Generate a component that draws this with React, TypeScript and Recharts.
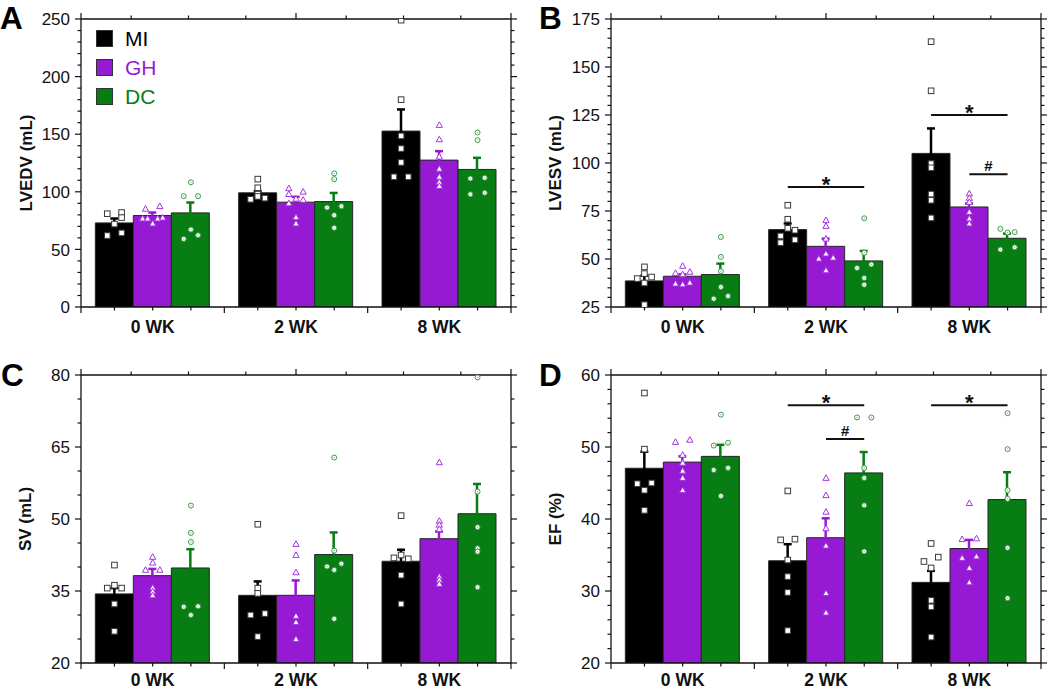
import React from 'react';
import { ComposedChart, Bar, ErrorBar, Scatter, XAxis, YAxis, ReferenceLine, Legend } from 'recharts';

const CATS = ['0 WK', '2 WK', '8 WK'];
const GROUPS = ['MI', 'GH', 'DC'];
const COLORS = ['#000000', '#9619d4', '#077d14'];
const MARKER_STROKE = ['#3a3a3a', '#a535e0', '#3e9a48'];
const FONT = '"Liberation Sans", Arial, sans-serif';

// ---------- A: LVEDV ----------
const LVEDV_TICKS = [0, 50, 100, 150, 200, 250];
const LVEDV_MI = [73.0, 99.1, 152.7];
const LVEDV_GH = [79.4, 91.0, 127.5];
const LVEDV_DC = [81.7, 91.5, 119.4];
const LVEDV_MI_SEM = [3.8, 1.5, 18.8];
const LVEDV_GH_SEM = [2.6, 4.6, 7.8];
const LVEDV_DC_SEM = [9.0, 7.5, 10.1];
const LVEDV_MI_PTS = [[81, 82, 77.6, 72, 62, 64.3], [111, 103.5, 98, 96, 93.5, 94.5], [249, 180, 148.5, 137.5, 125.5, 113, 113]];
const LVEDV_MI_JIT = [[-1, 1, 1, 0, -1, 1], [0, 0, 0, 0, -1, 1], [0, 0, 0, 0, 0, -1, 1]];
const LVEDV_GH_PTS = [[85.2, 87.5, 76.8, 76.8, 76.8, 77.6, 72.5], [103, 98, 100, 94, 93, 90, 78, 72.5], [158, 145.5, 130.5, 120, 113, 108.5, 105]];
const LVEDV_GH_JIT = [[-1, 1, -1.4, -0.7, 0.7, 1.4, 0], [-1, -1, 1, 0, 1, -1, 0, 0], [0, 0, 0, 0, 0, 0, 0]];
const LVEDV_DC_PTS = [[108.3, 96.2, 96.2, 67.2, 59.1, 62.3], [116, 111, 86.3, 87.5, 79.7, 68.7], [151.5, 144.8, 111.5, 112.1, 97.9, 99.1]];
const LVEDV_DC_JIT = [[0, -1, 1, 0, -1, 1], [0, 0, -1, 1, 0, 0], [0, 0, -1, 1, -1, 1]];
const LVEDV_SIG: any[] = [];

// ---------- B: LVESV ----------
const LVESV_TICKS = [25, 50, 75, 100, 125, 150, 175];
const LVESV_MI = [38.6, 65.3, 105.0];
const LVESV_GH = [41.0, 56.6, 77.1];
const LVESV_DC = [41.9, 49.0, 60.8];
const LVESV_MI_SEM = [2.7, 3.2, 13.0];
const LVESV_GH_SEM = [1.0, 4.0, 1.8];
const LVESV_DC_SEM = [5.7, 5.2, 2.4];
const LVESV_MI_PTS = [[45.9, 42.4, 39.8, 40.6, 37.5, 26.2], [78, 70.7, 66, 65, 62, 58.5, 60], [163.2, 137.6, 99.7, 97.5, 83.8, 80.6, 71.4]];
const LVESV_MI_JIT = [[0, 0, -1, 1, 0, 0], [0, 0, 0, 1, -1, -1, 1], [0, 0, 0, 0, 0, 0, 0]];
const LVESV_GH_PTS = [[46.4, 42.7, 43.3, 42.0, 37.2, 36.8, 37.7], [70.2, 67.2, 60.6, 52.8, 50.2, 50.7, 44.1], [84.1, 81.8, 79.7, 74.5, 71.1, 68.5]];
const LVESV_GH_JIT = [[0, -1, 1, 0, -1, 0, 1], [0, 0, 0, 0, -1, 1, 0], [0, 0, 0, 0, 0, 0]];
const LVESV_DC_PTS = [[61.5, 51.1, 43.6, 35.4, 29.3, 30.7], [71.2, 53.3, 45.3, 47.2, 40.1, 36.6], [65.7, 63.8, 64.0, 54.9, 56.1]];
const LVESV_DC_JIT = [[0, 0, 0, 0, -1, 1], [0, 0, -1, 1, 0, 0], [-1, 0, 1, -1, 1]];
const LVESV_SIG = [
  { cat: 1, from: 'MI', to: 'DC', y: 87.5, mark: '*' },
  { cat: 2, from: 'MI', to: 'DC', y: 125, mark: '*' },
  { cat: 2, from: 'GH', to: 'DC', y: 94.2, mark: '#' },
];

// ---------- C: SV ----------
const SV_TICKS = [20, 35, 50, 65, 80];
const SV_MI = [34.4, 34.1, 41.2];
const SV_GH = [38.2, 34.1, 45.9];
const SV_DC = [39.8, 42.6, 51.1];
const SV_MI_SEM = [1.2, 2.9, 2.4];
const SV_GH_SEM = [1.4, 3.1, 1.5];
const SV_DC_SEM = [3.9, 4.6, 6.2];
const SV_MI_PTS = [[40.4, 35.6, 36.2, 35.6, 32.3, 26.6], [48.9, 35.6, 34.5, 30.0, 30.3, 25.5], [50.7, 41.9, 42.5, 41.7, 38.3, 32.3]];
const SV_MI_JIT = [[0, -1, 0, 1, 0, 0], [0, 0, 0, -1, 1, 0], [0, -1, 0, 1, 0, 0]];
const SV_GH_PTS = [[42.1, 40.9, 39.4, 39.4, 35.7, 34.9, 34.1], [44.8, 42.5, 38.9, 29.8, 28.5, 25.0], [61.8, 49.6, 48.8, 47.9, 38.0, 37.3, 36.5]];
const SV_GH_JIT = [[0, 0, -1, 1, 0, 0, 0], [0, 0, 0, 0, 0, 0], [0, 0, 0, 0, 0, 0, 0]];
const SV_DC_PTS = [[52.8, 47.1, 45.2, 31.7, 31.8, 30.0], [62.8, 43.4, 40.1, 39.4, 40.7, 29.2], [79.5, 55.7, 48.3, 43.9, 43.2, 35.8]];
const SV_DC_JIT = [[0, 0, 0, -1, 1, 0], [0, 0, -1, 0, 1, 0], [0, 0, 0, 0, 0, 0]];
const SV_SIG: any[] = [];

// ---------- D: EF ----------
const EF_TICKS = [20, 30, 40, 50, 60];
const EF_MI = [47.05, 34.2, 31.2];
const EF_GH = [47.9, 37.4, 35.9];
const EF_DC = [48.7, 46.4, 42.7];
const EF_MI_SEM = [2.3, 2.3, 1.6];
const EF_GH_SEM = [0.8, 2.7, 1.2];
const EF_DC_SEM = [1.6, 2.9, 3.8];
const EF_MI_PTS = [[57.5, 49.7, 44.9, 45.0, 44.0, 41.2], [43.9, 37.1, 37.2, 34.3, 32.0, 29.8, 24.5], [36.6, 34.1, 34.7, 33.2, 28.7, 27.8, 23.6]];
const EF_MI_JIT = [[0, 0, -1, 1, 0, 0], [0, -1, 1, 0, 0, 0, 0], [0, -1, 1, 0, 0, 0, 0]];
const EF_GH_PTS = [[50.7, 51.0, 48.9, 47.8, 46.7, 45.7, 44.0], [45.7, 43.3, 41.0, 38.7, 36.3, 29.7, 27.0], [42.2, 37.2, 37.3, 34.6, 34.8, 33.2, 31.2]];
const EF_GH_JIT = [[-1, 1, 0, 0, 0, 0, 0], [0, 0, 0, 0, 0, 0, 0], [0, -1, 1, -1, 1, 0, 0]];
const EF_DC_PTS = [[54.5, 50.2, 50.6, 46.8, 47.1, 43.2], [54.1, 54.1, 47.1, 45.7, 41.9, 35.5], [54.7, 49.7, 44.0, 42.8, 36.0, 29.0]];
const EF_DC_JIT = [[0, -1, 1, -1, 1, 0], [-1, 1, 0, 0, 0, 0], [0, 0, 0, 0, 0, 0]];
const EF_SIG = [
  { cat: 1, from: 'MI', to: 'DC', y: 55.8, mark: '*' },
  { cat: 1, from: 'GH', to: 'DC', y: 51.1, mark: '#' },
  { cat: 2, from: 'MI', to: 'DC', y: 55.8, mark: '*' },
];

const PANEL_LETTERS = ['A', 'B', 'C', 'D'];

const CAT_GAP = 0.1;
const JSTEP = 0.05;
const CENTERS = GROUPS.map((_, g) => CAT_GAP + ((g + 0.5) * (1 - 2 * CAT_GAP)) / GROUPS.length);

function renderMarker(p: any, gi: number) {
  const { cx, cy } = p;
  if (cx == null || cy == null) return <g />;
  const s = MARKER_STROKE[gi];
  if (gi === 0) {
    return <rect x={cx - 2.8} y={cy - 2.8} width={5.6} height={5.6} fill="#fff" stroke={s} strokeWidth={1} />;
  }
  if (gi === 1) {
    return (
      <polygon
        points={`${cx},${cy - 3.2} ${cx - 3.1},${cy + 2.4} ${cx + 3.1},${cy + 2.4}`}
        fill="#fff"
        stroke={s}
        strokeWidth={1}
      />
    );
  }
  return (
    <g>
      <circle cx={cx} cy={cy} r={2.5} fill="#fff" stroke={s} strokeWidth={1} />
      <circle cx={cx} cy={cy} r={0.7} fill={s} opacity={0.6} />
    </g>
  );
}

function LegendBox() {
  return (
    <div style={{ fontFamily: FONT }}>
      {GROUPS.map((g, i) => (
        <div key={g} style={{ display: 'flex', alignItems: 'center', height: 29 }}>
          <div style={{ width: 15, height: 15, background: COLORS[i], border: '1px solid #333' }} />
          <span style={{ marginLeft: 12, fontSize: 21, color: COLORS[i], lineHeight: '29px' }}>{g}</span>
        </div>
      ))}
    </div>
  );
}

function Panel(props: any) {
  const { left, top, width, height, margin, yWidth, rWidth, bottomH, labelDy, titleX, yLabel, yTicks, minorStep, means, sems, pts, jits, sigs, legend } = props;
  const yMin = yTicks[0];
  const yMax = yTicks[yTicks.length - 1];
  const rows = CATS.map((c, i) => {
    const r: any = { cat: c };
    GROUPS.forEach((g, gi) => {
      r[g] = means[gi][i];
      r[g + '_e'] = sems[gi][i];
    });
    return r;
  });
  const allTicks: number[] = [];
  for (let k = 0; yMin + k * minorStep <= yMax + 1e-9; k++) allTicks.push(+(yMin + k * minorStep).toFixed(4));
  const xTicks: number[] = [];
  CATS.forEach((_, i) => {
    xTicks.push(i);
    CENTERS.forEach((c) => xTicks.push(+(i + c).toFixed(5)));
  });
  xTicks.push(CATS.length);
  const isMajorY = (v: number) => yTicks.some((t: number) => Math.abs(t - v) < 1e-6);

  const scat = GROUPS.map((_, gi) =>
    pts[gi].flatMap((vals: number[], ci: number) =>
      vals.map((v: number, k: number) => ({ x: ci + CENTERS[gi] + jits[gi][ci][k] * JSTEP, y: v }))
    )
  );

  const leftTick = (p: any) => {
    const v = p.payload.value;
    const maj = isMajorY(v);
    return (
      <g>
        <line x1={p.x} x2={p.x - (maj ? 6 : 3.5)} y1={p.y} y2={p.y} stroke="#111" strokeWidth={1.2} />
        {maj && (
          <text x={p.x - 11} y={p.y} dy="0.36em" textAnchor="end" fontSize={17} fill="#111" fontFamily={FONT}>
            {v}
          </text>
        )}
      </g>
    );
  };
  const rightTick = (p: any) => {
    const maj = isMajorY(p.payload.value);
    return <line x1={p.x} x2={p.x + (maj ? 6 : 3.5)} y1={p.y} y2={p.y} stroke="#111" strokeWidth={1.2} />;
  };
  const topTick = (p: any) => {
    const v = p.payload.value;
    const maj = Math.abs(v - Math.round(v)) < 1e-6;
    return <line x1={p.x} x2={p.x} y1={p.y} y2={p.y - (maj ? 6 : 3.5)} stroke="#111" strokeWidth={1.2} />;
  };
  const bottomTick = (p: any) => {
    const v = p.payload.value;
    const maj = Math.abs(v - Math.round(v)) < 1e-6;
    const ci = Math.floor(v);
    const isLabel = !maj && Math.abs(v - (ci + 0.5)) < 1e-6;
    return (
      <g>
        <line x1={p.x} x2={p.x} y1={p.y} y2={p.y + (maj ? 6 : 3.5)} stroke="#111" strokeWidth={1.2} />
        {isLabel && (
          <text x={p.x} y={p.y + labelDy} textAnchor="middle" fontSize={17.5} fontWeight="bold" fill="#111" fontFamily={FONT}>
            {CATS[ci]}
          </text>
        )}
      </g>
    );
  };
  const yTitle = (p: any) => {
    const vb = p.viewBox || {};
    const cx = (vb.x || 0) + titleX;
    const cy = (vb.y || 0) + (vb.height || 0) / 2;
    return (
      <text x={cx} y={cy} transform={`rotate(-90 ${cx} ${cy})`} textAnchor="middle" dominantBaseline="central" fontSize={17} fontWeight="bold" fill="#111" fontFamily={FONT}>
        {yLabel}
      </text>
    );
  };

  return (
    <div style={{ position: 'absolute', left, top, width, height }}>
      <ComposedChart width={width} height={height} data={rows} margin={margin} barCategoryGap={`${CAT_GAP * 100}%`} barGap={0}>
        <XAxis
          xAxisId="num"
          type="number"
          dataKey="x"
          domain={[0, CATS.length]}
          ticks={xTicks}
          interval={0}
          height={bottomH}
          tickSize={0}
          tickMargin={0}
          tickLine={false}
          tick={bottomTick}
          axisLine={{ stroke: '#111', strokeWidth: 1.3 }}
          allowDataOverflow
        />
        <XAxis xAxisId="cat" dataKey="cat" hide height={0} />
        <XAxis
          xAxisId="top"
          orientation="top"
          type="number"
          domain={[0, CATS.length]}
          ticks={xTicks}
          interval={0}
          height={4}
          tickSize={0}
          tickMargin={0}
          tickLine={false}
          tick={topTick}
          axisLine={{ stroke: '#111', strokeWidth: 1.3 }}
          allowDataOverflow
        />
        <YAxis
          yAxisId="l"
          domain={[yMin, yMax]}
          ticks={allTicks}
          interval={0}
          width={yWidth}
          tickSize={0}
          tickMargin={0}
          tickLine={false}
          tick={leftTick}
          axisLine={{ stroke: '#111', strokeWidth: 1.3 }}
          allowDataOverflow
          label={yTitle}
        />
        <YAxis
          yAxisId="r"
          orientation="right"
          domain={[yMin, yMax]}
          ticks={allTicks}
          interval={0}
          width={rWidth}
          tickSize={0}
          tickMargin={0}
          tickLine={false}
          tick={rightTick}
          axisLine={{ stroke: '#111', strokeWidth: 1.3 }}
          allowDataOverflow
        />
        <YAxis yAxisId="s" dataKey="y" domain={[yMin, yMax]} hide width={0} allowDataOverflow />
        {GROUPS.map((g, gi) => (
          <Bar key={g} xAxisId="cat" yAxisId="l" dataKey={g} name={g} fill={COLORS[gi]} stroke="#262626" strokeWidth={1} isAnimationActive={false}>
            <ErrorBar dataKey={g + '_e'} width={4} strokeWidth={2.5} stroke={COLORS[gi]} direction="y" />
          </Bar>
        ))}
        {GROUPS.map((g, gi) => (
          <Scatter
            key={'s' + g}
            xAxisId="num"
            yAxisId="s"
            data={scat[gi]}
            dataKey="y"
            legendType="none"
            isAnimationActive={false}
            shape={(p: any) => renderMarker(p, gi)}
          />
        ))}
        {sigs.map((s: any, k: number) => {
          const x1 = s.cat + CENTERS[GROUPS.indexOf(s.from)];
          const x2 = s.cat + CENTERS[GROUPS.indexOf(s.to)];
          const star = s.mark === '*';
          return (
            <ReferenceLine
              key={'sig' + k}
              xAxisId="num"
              yAxisId="s"
              segment={[{ x: x1, y: s.y }, { x: x2, y: s.y }]}
              stroke="#111"
              strokeWidth={2}
              ifOverflow="visible"
              label={{ value: s.mark, position: 'top', offset: star ? -5 : 3, fontSize: star ? 22 : 15, fontWeight: 'bold', fill: '#111', fontFamily: FONT }}
            />
          );
        })}
        {legend && (
          <Legend
            layout="vertical"
            verticalAlign="middle"
            align="center"
            wrapperStyle={{ left: 96, top: 24, width: 120, height: 90 }}
            content={() => <LegendBox />}
          />
        )}
      </ComposedChart>
    </div>
  );
}

export default function App() {
  const letterPos = [
    { x: 0, y: 29 },
    { x: 539, y: 29 },
    { x: 1, y: 386 },
    { x: 539, y: 386 },
  ];
  return (
    <div style={{ position: 'absolute', left: 0, top: 0, width: 1050, height: 689, background: '#fff', fontFamily: FONT, overflow: 'hidden' }}>
      <Panel
        left={0}
        top={0}
        width={525}
        height={340}
        margin={{ top: 15, right: 4, bottom: 3, left: 0 }}
        yWidth={81}
        rWidth={10}
        bottomH={30}
        labelDy={25.5}
        titleX={26}
        yLabel="LVEDV (mL)"
        yTicks={LVEDV_TICKS}
        minorStep={10}
        means={[LVEDV_MI, LVEDV_GH, LVEDV_DC]}
        sems={[LVEDV_MI_SEM, LVEDV_GH_SEM, LVEDV_DC_SEM]}
        pts={[LVEDV_MI_PTS, LVEDV_GH_PTS, LVEDV_DC_PTS]}
        jits={[LVEDV_MI_JIT, LVEDV_GH_JIT, LVEDV_DC_JIT]}
        sigs={LVEDV_SIG}
        legend
      />
      <Panel
        left={525}
        top={0}
        width={525}
        height={340}
        margin={{ top: 15, right: 0, bottom: 3, left: 0 }}
        yWidth={86}
        rWidth={9}
        bottomH={30}
        labelDy={25.5}
        titleX={30}
        yLabel="LVESV (mL)"
        yTicks={LVESV_TICKS}
        minorStep={5}
        means={[LVESV_MI, LVESV_GH, LVESV_DC]}
        sems={[LVESV_MI_SEM, LVESV_GH_SEM, LVESV_DC_SEM]}
        pts={[LVESV_MI_PTS, LVESV_GH_PTS, LVESV_DC_PTS]}
        jits={[LVESV_MI_JIT, LVESV_GH_JIT, LVESV_DC_JIT]}
        sigs={LVESV_SIG}
      />
      <Panel
        left={0}
        top={340}
        width={525}
        height={349}
        margin={{ top: 31, right: 4, bottom: 0, left: 0 }}
        yWidth={81}
        rWidth={10}
        bottomH={26}
        labelDy={22.5}
        titleX={25.5}
        yLabel="SV (mL)"
        yTicks={SV_TICKS}
        minorStep={5}
        means={[SV_MI, SV_GH, SV_DC]}
        sems={[SV_MI_SEM, SV_GH_SEM, SV_DC_SEM]}
        pts={[SV_MI_PTS, SV_GH_PTS, SV_DC_PTS]}
        jits={[SV_MI_JIT, SV_GH_JIT, SV_DC_JIT]}
        sigs={SV_SIG}
      />
      <Panel
        left={525}
        top={340}
        width={525}
        height={349}
        margin={{ top: 31, right: 0, bottom: 0, left: 0 }}
        yWidth={86}
        rWidth={9}
        bottomH={26}
        labelDy={22.5}
        titleX={30}
        yLabel="EF (%)"
        yTicks={EF_TICKS}
        minorStep={2}
        means={[EF_MI, EF_GH, EF_DC]}
        sems={[EF_MI_SEM, EF_GH_SEM, EF_DC_SEM]}
        pts={[EF_MI_PTS, EF_GH_PTS, EF_DC_PTS]}
        jits={[EF_MI_JIT, EF_GH_JIT, EF_DC_JIT]}
        sigs={EF_SIG}
      />
      <svg width={1050} height={689} style={{ position: 'absolute', left: 0, top: 0, pointerEvents: 'none' }}>
        {PANEL_LETTERS.map((t, i) => (
          <text key={t} x={letterPos[i].x} y={letterPos[i].y} fontSize={31.5} fontWeight="bold" fill="#000" fontFamily={FONT}>
            {t}
          </text>
        ))}
      </svg>
    </div>
  );
}
